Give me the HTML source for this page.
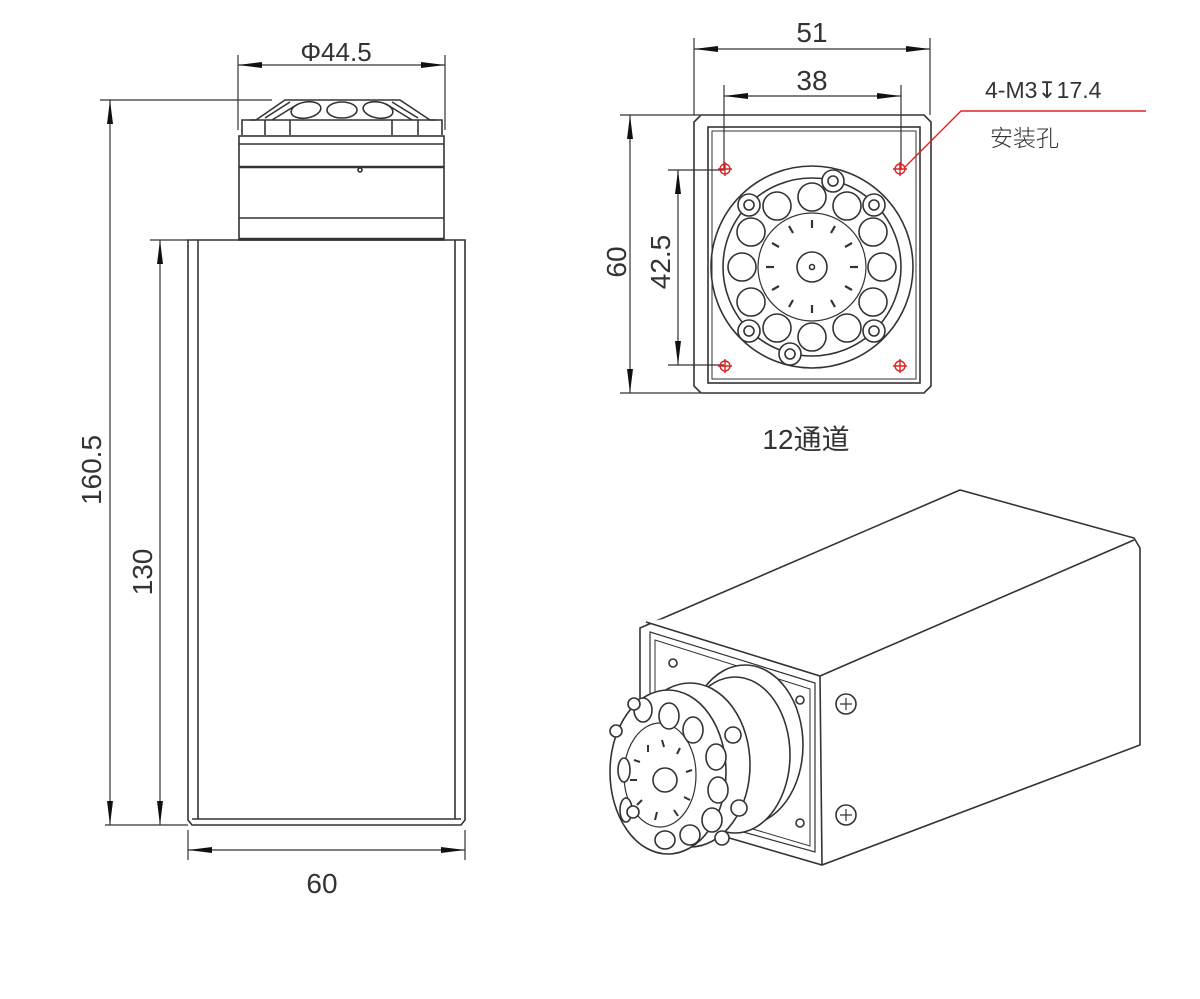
<!DOCTYPE html>
<html><head><meta charset="utf-8"><style>
html,body{margin:0;padding:0;background:#fff;}
svg{display:block;}
text{font-family:"Liberation Sans","Noto Sans CJK SC",sans-serif;fill:#333;font-weight:300;}
</style></head><body>
<svg width="1200" height="999" viewBox="0 0 1200 999" xmlns="http://www.w3.org/2000/svg">
<defs>
<marker id="a" viewBox="0 0 24 8" refX="24" refY="4" markerWidth="24" markerHeight="8" markerUnits="userSpaceOnUse" orient="auto-start-reverse"><path d="M0,1 L24,4 L0,7 Z" fill="#111"/></marker>
</defs>
<g stroke="#333" fill="none" stroke-width="1.2">
<!-- LEFT VIEW dims -->
<line x1="100" y1="100" x2="272" y2="100"/>
<line x1="150" y1="240" x2="188" y2="240"/>
<line x1="105" y1="825" x2="188" y2="825"/>
<line x1="110" y1="100" x2="110" y2="825" marker-start="url(#a)" marker-end="url(#a)"/>
<line x1="160" y1="240" x2="160" y2="825" marker-start="url(#a)" marker-end="url(#a)"/>
<line x1="238" y1="55" x2="238" y2="130"/>
<line x1="445" y1="55" x2="445" y2="130"/>
<line x1="238" y1="65" x2="445" y2="65" marker-start="url(#a)" marker-end="url(#a)"/>
<line x1="188" y1="830" x2="188" y2="860"/>
<line x1="465" y1="830" x2="465" y2="860"/>
<line x1="188" y1="850" x2="465" y2="850" marker-start="url(#a)" marker-end="url(#a)"/>
<!-- body -->
<g stroke-width="1.6">
<path d="M188,240 H465 V820 L461,825 H192 L188,820 Z"/>
<line x1="198" y1="240" x2="198" y2="819"/>
<line x1="455" y1="240" x2="455" y2="819"/>
<line x1="192" y1="819" x2="461" y2="819"/>
<!-- lens -->
<rect x="239" y="136" width="205" height="104"/>
<line x1="239" y1="144" x2="444" y2="144"/>
<line x1="239" y1="167" x2="444" y2="167" stroke-width="2.5"/>
<line x1="239" y1="218" x2="444" y2="218"/>
<line x1="239" y1="239" x2="444" y2="239" stroke-width="2.5"/>
<circle cx="360" cy="170" r="2"/>
<path d="M242,135 V120 H256 L285,100 H400 L430,120 H442 V135"/>
<line x1="250" y1="120" x2="436" y2="120"/>
<line x1="265" y1="120" x2="265" y2="135"/><line x1="290" y1="120" x2="290" y2="135"/>
<line x1="392" y1="120" x2="392" y2="135"/><line x1="418" y1="120" x2="418" y2="135"/>
<ellipse cx="306" cy="110" rx="15" ry="8" transform="rotate(-10 306 110)"/>
<ellipse cx="342" cy="110" rx="15" ry="8"/>
<ellipse cx="378" cy="110" rx="15" ry="8" transform="rotate(10 378 110)"/>
<path d="M265,118 L290,102 M272,120 L298,104 M418,118 L392,102 M412,120 L386,104"/>
</g>
<!-- RIGHT TOP VIEW dims -->
<line x1="694" y1="38" x2="694" y2="115"/>
<line x1="930" y1="38" x2="930" y2="115"/>
<line x1="694" y1="49" x2="930" y2="49" marker-start="url(#a)" marker-end="url(#a)"/>
<line x1="724" y1="85" x2="724" y2="170"/>
<line x1="901" y1="85" x2="901" y2="170"/>
<line x1="724" y1="96" x2="901" y2="96" marker-start="url(#a)" marker-end="url(#a)"/>
<line x1="620" y1="115" x2="700" y2="115"/>
<line x1="620" y1="393" x2="700" y2="393"/>
<line x1="630" y1="115" x2="630" y2="393" marker-start="url(#a)" marker-end="url(#a)"/>
<line x1="668" y1="170" x2="724" y2="170"/>
<line x1="668" y1="365" x2="724" y2="365"/>
<line x1="678" y1="170" x2="678" y2="365" marker-start="url(#a)" marker-end="url(#a)"/>
<g stroke-width="1.6">
<path d="M701,115 H924 L931,122 V386 L924,393 H701 L694,386 V122 Z"/>
<rect x="708" y="127" width="212" height="256"/>
<rect x="712" y="131" width="204" height="248" stroke-width="1"/>
<circle cx="812" cy="267" r="101"/>
<circle cx="812" cy="267" r="89"/>
<circle cx="812" cy="267" r="54" stroke-width="1.2"/>
<circle cx="812" cy="267" r="15"/>
<circle cx="812" cy="267" r="2.5"/>
</g>
<g stroke-width="1.6">
<circle cx="812" cy="197" r="14"/><circle cx="847" cy="206" r="14"/><circle cx="873" cy="232" r="14"/>
<circle cx="882" cy="267" r="14"/><circle cx="873" cy="302" r="14"/><circle cx="847" cy="328" r="14"/>
<circle cx="812" cy="337" r="14"/><circle cx="777" cy="328" r="14"/><circle cx="751" cy="302" r="14"/>
<circle cx="742" cy="267" r="14"/><circle cx="751" cy="232" r="14"/><circle cx="777" cy="206" r="14"/>
</g>
<g stroke-width="1.6" fill="#fff">
<circle cx="833" cy="181" r="11"/><circle cx="833" cy="181" r="5"/>
<circle cx="874" cy="205" r="11"/><circle cx="874" cy="205" r="5"/>
<circle cx="749" cy="205" r="11"/><circle cx="749" cy="205" r="5"/>
<circle cx="749" cy="331" r="11"/><circle cx="749" cy="331" r="5"/>
<circle cx="874" cy="331" r="11"/><circle cx="874" cy="331" r="5"/>
<circle cx="790" cy="354" r="11"/><circle cx="790" cy="354" r="5"/>
</g>
<g stroke-width="2.2">
<line x1="812" y1="220" x2="812" y2="228"/><line x1="835" y1="226" x2="831" y2="233"/>
<line x1="852" y1="243" x2="845" y2="247"/><line x1="858" y1="267" x2="850" y2="267"/>
<line x1="852" y1="290" x2="845" y2="286"/><line x1="835" y1="307" x2="831" y2="300"/>
<line x1="812" y1="313" x2="812" y2="305"/><line x1="789" y1="307" x2="793" y2="300"/>
<line x1="772" y1="290" x2="779" y2="286"/><line x1="766" y1="267" x2="774" y2="267"/>
<line x1="772" y1="243" x2="779" y2="247"/><line x1="789" y1="226" x2="793" y2="233"/>
</g>
<!-- 3D VIEW -->
<g stroke-width="1.6" fill="#fff">
<path d="M640,628 L960,490 L1134,538 L1140,548 L1140,745 L822,865 L640,812 Z"/>
<path d="M646,622 L820,676 L1134,540"/>
<line x1="820" y1="676" x2="822" y2="865"/>
<path d="M650,632 L815,683 L815,852 L650,806 Z" stroke-width="1.2"/>
<path d="M655,640 L810,689 L810,846 L655,800 Z" stroke-width="1"/>
<circle cx="846" cy="704" r="10"/><path d="M840,704 H852 M846,698 V710" stroke-width="1.2"/>
<circle cx="846" cy="815" r="10"/><path d="M840,815 H852 M846,809 V821" stroke-width="1.2"/>
<circle cx="673" cy="663" r="4"/><circle cx="800" cy="700" r="4"/><circle cx="800" cy="823" r="4"/>
<ellipse cx="745" cy="745" rx="58" ry="80"/>
<ellipse cx="735" cy="755" rx="55" ry="78"/>
<ellipse cx="690" cy="765" rx="60" ry="82"/>
<ellipse cx="668" cy="772" rx="58" ry="82"/>
<ellipse cx="660" cy="775" rx="36" ry="52" stroke-width="1.2"/>
<circle cx="665" cy="780" r="12"/>
<ellipse cx="643" cy="710" rx="9" ry="12"/><ellipse cx="669" cy="716" rx="10" ry="13"/>
<ellipse cx="693" cy="730" rx="10" ry="13"/><ellipse cx="716" cy="757" rx="10" ry="13"/>
<ellipse cx="718" cy="790" rx="10" ry="13"/><ellipse cx="712" cy="820" rx="10" ry="12"/>
<ellipse cx="690" cy="835" rx="10" ry="10"/><ellipse cx="665" cy="840" rx="10" ry="9"/>
<ellipse cx="624" cy="770" rx="6" ry="12"/><ellipse cx="626" cy="810" rx="6" ry="12"/>
<circle cx="634" cy="704" r="6"/><circle cx="616" cy="731" r="6"/><circle cx="733" cy="735" r="8"/>
<circle cx="739" cy="808" r="8"/><circle cx="722" cy="838" r="7"/><circle cx="633" cy="812" r="6"/>
</g>
<g stroke-width="2">
<line x1="648" y1="745" x2="648" y2="752"/><line x1="662" y1="740" x2="664" y2="747"/>
<line x1="680" y1="748" x2="677" y2="754"/><line x1="692" y1="770" x2="686" y2="772"/>
<line x1="690" y1="800" x2="684" y2="797"/><line x1="678" y1="816" x2="674" y2="810"/>
<line x1="655" y1="820" x2="657" y2="812"/><line x1="637" y1="805" x2="642" y2="800"/>
<line x1="630" y1="780" x2="637" y2="780"/><line x1="634" y1="760" x2="640" y2="762"/>
</g>
</g>
<!-- red leader & holes -->
<g stroke="#d22" fill="none" stroke-width="1.4">
<polyline points="1146,111 961,111 904,168"/>
<g><circle cx="725" cy="169" r="5"/><path d="M718,169 H732 M725,162 V176"/></g>
<g><circle cx="900" cy="169" r="5"/><path d="M893,169 H907 M900,162 V176"/></g>
<g><circle cx="725" cy="366" r="5"/><path d="M718,366 H732 M725,359 V373"/></g>
<g><circle cx="900" cy="366" r="5"/><path d="M893,366 H907 M900,359 V373"/></g>
</g>
<!-- labels -->
<text x="336" y="61" font-size="26" text-anchor="middle">Φ44.5</text>
<text x="322" y="893" font-size="28" text-anchor="middle">60</text>
<text transform="translate(101,470) rotate(-90)" font-size="28" text-anchor="middle">160.5</text>
<text transform="translate(152,572) rotate(-90)" font-size="28" text-anchor="middle">130</text>
<text x="812" y="42" font-size="28" text-anchor="middle">51</text>
<text x="812" y="90" font-size="28" text-anchor="middle">38</text>
<text transform="translate(626,262) rotate(-90)" font-size="28" text-anchor="middle">60</text>
<text transform="translate(670,262) rotate(-90)" font-size="28" text-anchor="middle">42.5</text>
<text x="985" y="98" font-size="23">4-M3↧17.4</text>
<text x="990" y="146" font-size="23">安装孔</text>
<text x="806" y="449" font-size="28" text-anchor="middle" style="font-weight:400">12通道</text>
</svg>
</body></html>
